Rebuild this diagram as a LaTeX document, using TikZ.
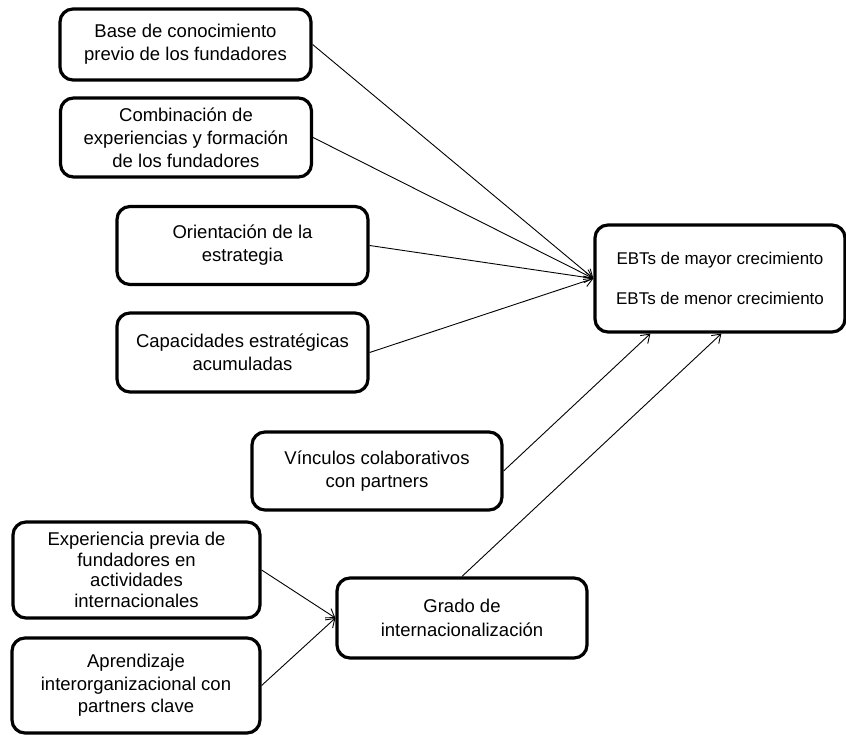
\documentclass[tikz,border=0pt]{standalone}
\usepackage{fontspec}
\setmainfont{Liberation Sans}
\usetikzlibrary{arrows.meta}
\begin{document}
\begin{tikzpicture}[x=1pt,y=-1pt,
  box/.style={draw, line width=3.2pt, rounded corners=13pt, align=center,
    inner sep=0pt, font=\fontsize{18.5}{23}\selectfont},
  link/.style={line width=0.9pt, -{Straight Barb[length=8pt,width=11pt]}}]
\useasboundingbox (0,0) rectangle (846,735);

% factor boxes
\node[box, minimum width=251pt, minimum height=71pt] (b1) at (185.5,44.5)
  {Base de conocimiento\\previo de los fundadores};
\node[box, minimum width=251pt, minimum height=79pt] (b2) at (186,137.5)
  {Combinación de\\experiencias y formación\\de los fundadores};
\node[box, minimum width=251pt, minimum height=78pt] (b3) at (242.5,245.5)
  {Orientación de la\\estrategia};
\node[box, minimum width=251pt, minimum height=79pt] (b4) at (242.5,352.5)
  {Capacidades estratégicas\\acumuladas};
\node[box, minimum width=250pt, minimum height=78pt] (vin) at (377,471)
  {Vínculos colaborativos\\con partners};
\node[box, minimum width=247pt, minimum height=96pt,
  font=\fontsize{18.5}{20.5}\selectfont] (exp) at (136.5,570)
  {Experiencia previa de\\fundadores en\\actividades\\internacionales};
\node[box, minimum width=248pt, minimum height=95pt,
  font=\fontsize{18.5}{22.5}\selectfont] (apr) at (136,685.5)
  {Aprendizaje\\interorganizacional con\\partners clave};
\node[box, minimum width=250pt, minimum height=80pt,
  font=\fontsize{18.5}{24}\selectfont] (gra) at (462,618)
  {Grado de\\internacionalización};

% outcome box
\node[box, minimum width=250pt, minimum height=107pt,
  font=\fontsize{17}{40}\selectfont] (ebt) at (720,278.5)
  {EBTs de mayor crecimiento\\EBTs de menor crecimiento};

% connectors
\draw[link] (b1.east) -- (ebt.west);
\draw[link] (b2.east) -- (ebt.west);
\draw[link] (b3.east) -- (ebt.west);
\draw[link] (b4.east) -- (ebt.west);
\draw[link] (vin.east) -- ([xshift=57pt]ebt.south west);
\draw[link] (gra.north) -- ([xshift=128pt]ebt.south west);
\draw[link] (exp.east) -- (gra.west);
\draw[link] (apr.east) -- (gra.west);
\end{tikzpicture}
\end{document}
